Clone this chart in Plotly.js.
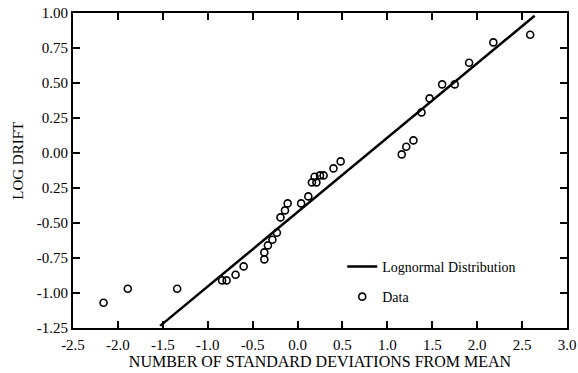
<!DOCTYPE html>
<html>
<head>
<meta charset="utf-8">
<script src="https://cdn.plot.ly/plotly-3.0.1.min.js"></script>
<style>html,body{margin:0;padding:0;background:#fff}#chart{width:578px;height:373px}</style>
</head>
<body>
<div id="chart"></div>
<script>
// Fitted lognormal line (end points)
const lineX = [-1.53, 2.64];
const lineY = [-1.235, 0.98];

// Observed data points
const dataX = [-2.16, -1.89, -1.34, -0.84, -0.79, -0.69, -0.60, -0.37, -0.37, -0.33, -0.28, -0.23,
  -0.19, -0.14, -0.11, 0.04, 0.12, 0.16, 0.21, 0.19, 0.25, 0.29, 0.40, 0.48,
  1.16, 1.21, 1.29, 1.38, 1.47, 1.61, 1.75, 1.91, 2.18, 2.59];
const dataY = [-1.07, -0.97, -0.97, -0.91, -0.91, -0.87, -0.81, -0.76, -0.71, -0.66, -0.62, -0.57,
  -0.46, -0.41, -0.36, -0.36, -0.31, -0.21, -0.21, -0.17, -0.16, -0.16, -0.11, -0.06,
  -0.01, 0.045, 0.09, 0.29, 0.39, 0.49, 0.49, 0.645, 0.79, 0.845];

// Tick labels
const xTickVals = [-2.5, -2.0, -1.5, -1.0, -0.5, 0.0, 0.5, 1.0, 1.5, 2.0, 2.5, 3.0];
const xTickText = ["-2.5", "-2.0", "-1.5", "-1.0", "-0.5", "0.0", "0.5", "1.0", "1.5", "2.0", "2.5", "3.0"];
const yTickVals = [-1.25, -1.0, -0.75, -0.5, -0.25, 0.0, 0.25, 0.5, 0.75, 1.0];
const yTickText = ["-1.25", "-1.00", "-0.75", "-0.50", "0.25", "0.00", "0.25", "0.50", "0.75", "1.00"];

const serif = "'Liberation Serif', 'DejaVu Serif', serif";

const traces = [
  {
    x: lineX, y: lineY, mode: "lines", name: "Lognormal Distribution",
    legendgroup: "a",
    line: {color: "#000", width: 2.5}
  },
  {
    x: dataX, y: dataY, mode: "markers", name: "Data",
    legendgroup: "b",
    marker: {symbol: "circle-open", size: 7, color: "#000", line: {color: "#000", width: 1.6}}
  }
];

const axisCommon = {
  showline: true, linecolor: "#000", linewidth: 2,
  ticks: "inside", ticklen: 7, tickwidth: 2, tickcolor: "#000",
  mirror: "ticks", showgrid: false, zeroline: false,
  tickfont: {family: serif, size: 15, color: "#000"}
};

const layout = {
  width: 578, height: 373,
  margin: {l: 73, r: 11, t: 13, b: 45},
  paper_bgcolor: "#fff", plot_bgcolor: "#fff",
  font: {family: serif, color: "#000"},
  xaxis: Object.assign({}, axisCommon, {
    range: [-2.5, 3.0], tickmode: "array", tickvals: xTickVals, ticktext: xTickText,
    ticklabelstandoff: 2,
    title: {text: "NUMBER OF STANDARD DEVIATIONS FROM MEAN", font: {family: serif, size: 16, color: "#000"}, standoff: 0}
  }),
  yaxis: Object.assign({}, axisCommon, {
    range: [-1.25, 1.0], tickmode: "array", tickvals: yTickVals, ticktext: yTickText
  }),
  annotations: [{
    text: "LOG DRIFT", textangle: -90, xref: "paper", yref: "paper",
    x: -0.112, y: 0.53, xanchor: "center", yanchor: "middle", showarrow: false,
    font: {family: serif, size: 15, color: "#000"}
  }],
  showlegend: true,
  legend: {
    x: 0.545, y: 0.245, xanchor: "left", yanchor: "top",
    bgcolor: "rgba(0,0,0,0)", borderwidth: 0,
    traceorder: "grouped", tracegroupgap: 9, itemwidth: 30,
    font: {family: serif, size: 14, color: "#000"}
  }
};

Plotly.newPlot("chart", traces, layout, {displayModeBar: false, staticPlot: true});
</script>
</body>
</html>
